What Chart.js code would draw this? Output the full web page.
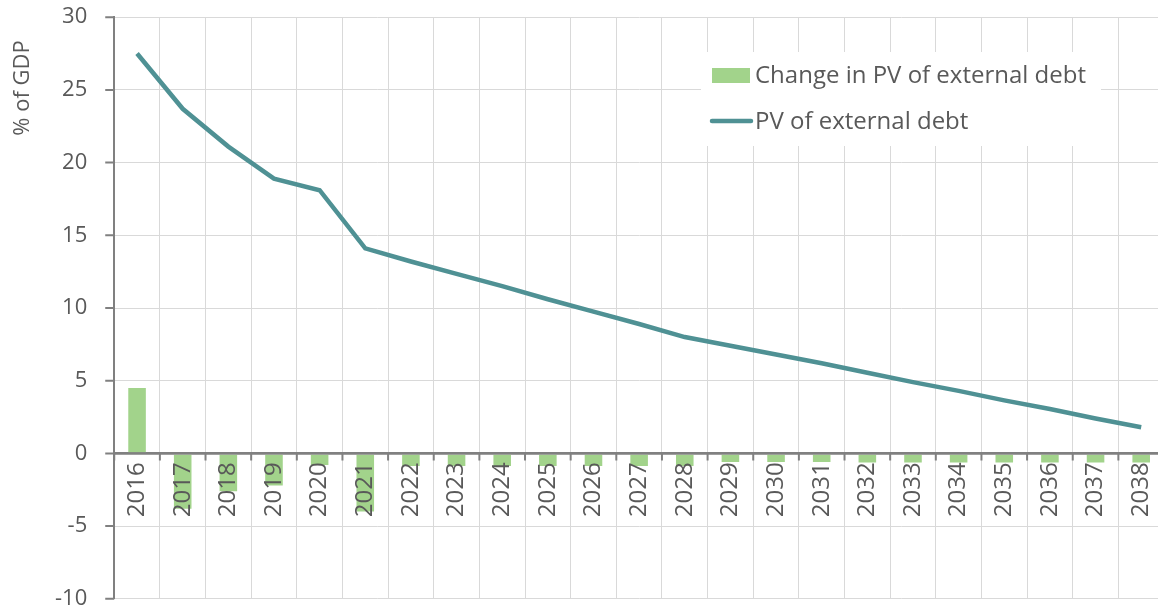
<!DOCTYPE html>
<html>
<head>
<meta charset="utf-8">
<script src="https://cdn.jsdelivr.net/npm/chart.js@4/dist/chart.umd.min.js"></script>
<style>
    html, body { margin: 0; padding: 0; background: #fff; overflow: hidden; }
    /* canvas a bit larger than the window so the plot runs to the edges */
    #wrap { width: 1179px; height: 624px; margin-top: -4px; position: relative; }
</style>
</head>
<body>
<div id="wrap"><canvas id="debtChart"></canvas></div>
<script>
// Chart data
const years = ['2016', '2017', '2018', '2019', '2020', '2021', '2022', '2023', '2024', '2025', '2026', '2027',
    '2028', '2029', '2030', '2031', '2032', '2033', '2034', '2035', '2036', '2037', '2038'];
const changeInPV = [4.5, -3.8, -2.6, -2.2, -0.8, -4.0, -0.87, -0.87, -0.87, -0.87, -0.87, -0.87,
    -0.87, -0.6, -0.6, -0.6, -0.62, -0.62, -0.62, -0.62, -0.62, -0.62, -0.62];
const pvExternalDebt = [27.5, 23.7, 21.1, 18.9, 18.1, 14.1, 13.2, 12.35, 11.5, 10.6, 9.75, 8.9,
    8.0, 7.4, 6.8, 6.2, 5.55, 4.9, 4.3, 3.65, 3.05, 2.4, 1.8];
const seriesNames = ['Change in PV of external debt', 'PV of external debt'];
const yTicks = [-10, -5, 0, 5, 10, 15, 20, 25, 30];
const yTitle = '% of GDP';

const COLORS = {
    bar: '#a2d38b',
    line: '#4f9194',
    text: '#595959',
    grid: '#d9d9d9',
    axis: '#808080'
};

const FONT = "'Open Sans', 'Noto Sans', sans-serif";
const SHIFT = 4; // canvas is moved up by this much
Chart.defaults.font.family = FONT;
Chart.defaults.color = COLORS.text;

// legend drawn inside the plot, on a white box over the grid
const insideLegend = {
    id: 'insideLegend',
    beforeDatasetsDraw(chart) {
        const ctx = chart.ctx;
        ctx.save();
        ctx.translate(0, SHIFT);
        ctx.fillStyle = '#fff';
        ctx.fillRect(701, 52, 400, 94);
        ctx.font = '24px ' + FONT;
        ctx.textBaseline = 'middle';
        ctx.fillStyle = COLORS.bar;
        ctx.fillRect(712, 68, 38, 15);
        ctx.fillStyle = COLORS.text;
        ctx.fillText(seriesNames[0], 755, 76);
        ctx.strokeStyle = COLORS.line;
        ctx.lineWidth = 4.5;
        ctx.lineCap = 'round';
        ctx.beginPath();
        ctx.moveTo(712, 121);
        ctx.lineTo(751, 121);
        ctx.stroke();
        ctx.fillText(seriesNames[1], 755, 122);
        ctx.restore();
    }
};

// y title sits near the top, not centred on the axis
const yTitlePlugin = {
    id: 'yTitle',
    afterDraw(chart) {
        const ctx = chart.ctx;
        ctx.save();
        ctx.translate(23, 88 + SHIFT);
        ctx.rotate(-Math.PI / 2);
        ctx.font = '22px ' + FONT;
        ctx.fillStyle = COLORS.text;
        ctx.textAlign = 'center';
        ctx.textBaseline = 'middle';
        ctx.fillText(yTitle, 0, 0);
        ctx.restore();
    }
};

// short tick marks: left of the y axis, and below the zero line at category boundaries
const axisTicks = {
    id: 'axisTicks',
    afterDatasetsDraw(chart) {
        const x = chart.scales.x;
        const y = chart.scales.y;
        const y0 = y.getPixelForValue(0);
        const left = chart.chartArea.left;
        const ctx = chart.ctx;
        const half = (x.getPixelForValue(1) - x.getPixelForValue(0)) / 2;
        ctx.save();
        ctx.strokeStyle = COLORS.axis;
        ctx.lineWidth = 2;
        ctx.beginPath();
        for (let i = 0; i <= years.length; i++) {
            const px = x.getPixelForValue(i) - half;
            ctx.moveTo(px, y0);
            ctx.lineTo(px, y0 + 7);
        }
        yTicks.forEach(v => {
            const py = y.getPixelForValue(v);
            ctx.moveTo(left - 9, py);
            ctx.lineTo(left, py);
        });
        ctx.moveTo(chart.chartArea.left, y0);
        ctx.lineTo(chart.chartArea.right, y0);
        ctx.stroke();
        ctx.restore();
    }
};

new Chart(document.getElementById('debtChart'), {
    data: {
        labels: years,
        datasets: [{
            type: 'line',
            label: seriesNames[1],
            data: pvExternalDebt,
            borderColor: COLORS.line,
            borderWidth: 4.5,
            pointRadius: 0,
            tension: 0,
            order: 0
        }, {
            type: 'bar',
            label: seriesNames[0],
            data: changeInPV,
            backgroundColor: COLORS.bar,
            barPercentage: 0.385,
            categoryPercentage: 1,
            order: 1
        }]
    },
    options: {
        responsive: true,
        maintainAspectRatio: false,
        animation: false,
        layout: {
            padding: { top: 3, right: 0, bottom: 0, left: 47 }
        },
        scales: {
            x: {
                position: { y: 0 },
                offset: true,
                grid: {
                    offset: true,
                    color: COLORS.grid,
                    lineWidth: 1,
                    drawTicks: false
                },
                border: { display: false },
                ticks: {
                    z: 1,
                    minRotation: 90,
                    maxRotation: 90,
                    autoSkip: false,
                    padding: 9,
                    color: COLORS.text,
                    font: { size: 24 }
                }
            },
            y: {
                min: -10,
                max: 30,
                afterBuildTicks(axis) {
                    axis.ticks = yTicks.map(v => ({ value: v }));
                },
                grid: {
                    color: (c) => c.tick && c.tick.value === 0 ? COLORS.axis : COLORS.grid,
                    lineWidth: (c) => c.tick && c.tick.value === 0 ? 2.5 : 1,
                    tickColor: 'rgba(0,0,0,0)',
                    tickLength: 19
                },
                border: { color: COLORS.axis, width: 2 },
                ticks: {
                    color: COLORS.text,
                    font: { size: 22 },
                    padding: 8
                }
            }
        },
        plugins: {
            legend: { display: false },
            tooltip: { enabled: false }
        }
    },
    plugins: [insideLegend, yTitlePlugin, axisTicks]
});
</script>
</body>
</html>
